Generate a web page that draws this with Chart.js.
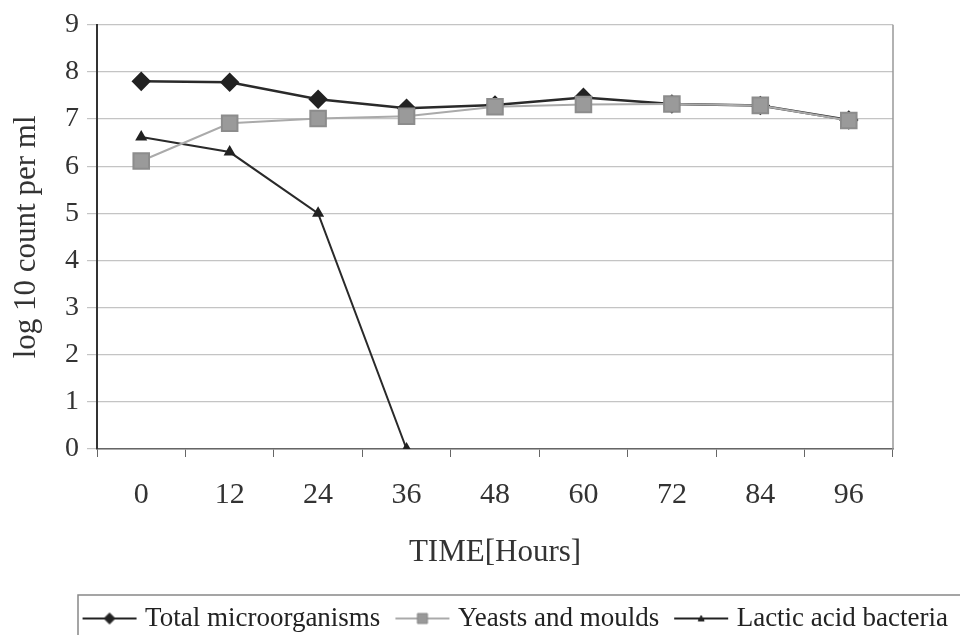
<!DOCTYPE html>
<html>
<head>
<meta charset="utf-8">
<script src="https://cdn.jsdelivr.net/npm/chart.js@4.4.1/dist/chart.umd.min.js"></script>
<style>
  html, body { margin: 0; padding: 0; background: #fff; }
  #wrap { width: 960px; height: 635px; }
</style>
</head>
<body>
<div id="wrap"><canvas id="c" width="960" height="635"></canvas></div>
<script>
// data
const hours = ["0", "12", "24", "36", "48", "60", "72", "84", "96"];
const totalMicro = [7.80, 7.78, 7.42, 7.23, 7.30, 7.46, 7.32, 7.29, 6.98];
const yeastsMoulds = [6.11, 6.91, 7.01, 7.06, 7.26, 7.31, 7.32, 7.29, 6.97];
const lacticAcid = [6.62, 6.30, 5.00, 0, null, null, null, null, null];
const yTicks = [0, 1, 2, 3, 4, 5, 6, 7, 8, 9];

const serif = "'Liberation Serif', 'DejaVu Serif', serif";

// little line+marker pictures for the legend
function legendIcon(style, lineColor, fill, stroke, r) {
  const cv = document.createElement("canvas");
  cv.width = 56; cv.height = 16;
  const g = cv.getContext("2d");
  g.strokeStyle = lineColor; g.lineWidth = 2;
  g.beginPath(); g.moveTo(1, 8); g.lineTo(55, 8); g.stroke();
  g.fillStyle = fill; g.strokeStyle = stroke; g.lineWidth = 1;
  g.beginPath();
  if (style === "diamond") {
    g.moveTo(28, 8 - r); g.lineTo(28 + r, 8); g.lineTo(28, 8 + r); g.lineTo(28 - r, 8);
  } else if (style === "square") {
    g.rect(28 - r, 8 - r, 2 * r, 2 * r);
  } else {
    g.moveTo(28, 8 - r); g.lineTo(28 + r, 8 + r * 0.8); g.lineTo(28 - r, 8 + r * 0.8);
  }
  g.closePath(); g.fill(); g.stroke();
  return cv;
}
const icons = [
  legendIcon("diamond", "#222", "#222", "#222", 5.5),
  legendIcon("square", "#aaa", "#999", "#888", 5),
  legendIcon("triangle", "#222", "#222", "#222", 3)
];

const frame = {
  id: "frame",
  afterLayout(chart) {
    // nudge legend a little to the right, as in the original
    chart.legend.left += 8;
    chart.legend.right += 8;
  },
  beforeDatasetsDraw(chart) {
    const a = chart.chartArea, ctx = chart.ctx;
    ctx.save();
    ctx.strokeStyle = "#999"; ctx.lineWidth = 1.5;
    ctx.beginPath();
    ctx.moveTo(a.right, a.top); ctx.lineTo(a.right, a.bottom);
    ctx.stroke();
    ctx.restore();
  },
  afterDraw(chart) {
    const ctx = chart.ctx;
    ctx.save();
    ctx.strokeStyle = "#888"; ctx.lineWidth = 1.5;
    ctx.strokeRect(78, 595, 960, 60);
    ctx.restore();
  }
};

new Chart(document.getElementById("c").getContext("2d"), {
  type: "line",
  data: {
    labels: hours,
    datasets: [
      {
        label: "Total microorganisms",
        data: totalMicro,
        borderColor: "#2a2a2a",
        backgroundColor: "#222",
        borderWidth: 2.5,
        pointStyle: "rectRot",
        pointRadius: 8,
        pointBorderColor: "#222",
        pointBackgroundColor: "#222",
        tension: 0,
        order: 0
      },
      {
        label: "Yeasts and moulds",
        data: yeastsMoulds,
        borderColor: "#aaa",
        backgroundColor: "#999",
        borderWidth: 2,
        pointStyle: "rect",
        pointRadius: 11,
        pointBorderColor: "#8c8c8c",
        pointBackgroundColor: "#9a9a9a",
        tension: 0,
        order: -1
      },
      {
        label: "Lactic acid bacteria",
        data: lacticAcid,
        borderColor: "#2a2a2a",
        backgroundColor: "#222",
        borderWidth: 2,
        pointStyle: "triangle",
        pointRadius: 5,
        pointBorderColor: "#222",
        pointBackgroundColor: "#222",
        spanGaps: false,
        tension: 0,
        order: 0
      }
    ]
  },
  options: {
    responsive: false,
    animation: false,
    layout: { padding: { top: 8, right: 0, left: 0, bottom: -7 } },
    plugins: {
      tooltip: { enabled: false },
      legend: {
        position: "bottom",
        align: "end",
        labels: {
          usePointStyle: true,
          pointStyleWidth: 44,
          color: "#222",
          font: { family: serif, size: 27 },
          padding: 20,
          generateLabels: chart => chart.data.datasets.map((ds, i) => ({
            text: ds.label,
            pointStyle: icons[i],
            datasetIndex: i,
            fontColor: "#222",
            lineWidth: 0,
            strokeStyle: "transparent",
            fillStyle: "transparent"
          }))
        }
      }
    },
    scales: {
      x: {
        offset: true,
        afterFit: s => { s.height = 136; },
        border: { color: "#666", width: 1.5 },
        grid: { offset: true, drawOnChartArea: false, tickLength: 8, color: "#666" },
        ticks: { color: "#333", font: { family: serif, size: 30 }, padding: 20 },
        title: {
          display: true,
          text: "TIME[Hours]",
          color: "#333",
          font: { family: serif, size: 31 },
          padding: { top: 10, bottom: 14 }
        }
      },
      y: {
        min: 0,
        max: 9,
        afterBuildTicks: s => { s.ticks = yTicks.map(v => ({ value: v })); },
        afterFit: s => { s.width = 97; },
        border: { color: "#333", width: 2 },
        grid: { color: "#c4c4c4", lineWidth: 1.2, tickLength: 10 },
        ticks: { color: "#333", font: { family: serif, size: 28 }, padding: 8 },
        title: {
          display: true,
          text: "log 10 count per ml",
          color: "#333",
          font: { family: serif, size: 31 },
          padding: { top: 8, bottom: 0 }
        }
      },
      y2: {
        position: "right",
        display: true,
        afterFit: s => { s.width = 67; },
        grid: { display: false },
        border: { display: false },
        ticks: { display: false }
      }
    }
  },
  plugins: [frame]
});
</script>
</body>
</html>
